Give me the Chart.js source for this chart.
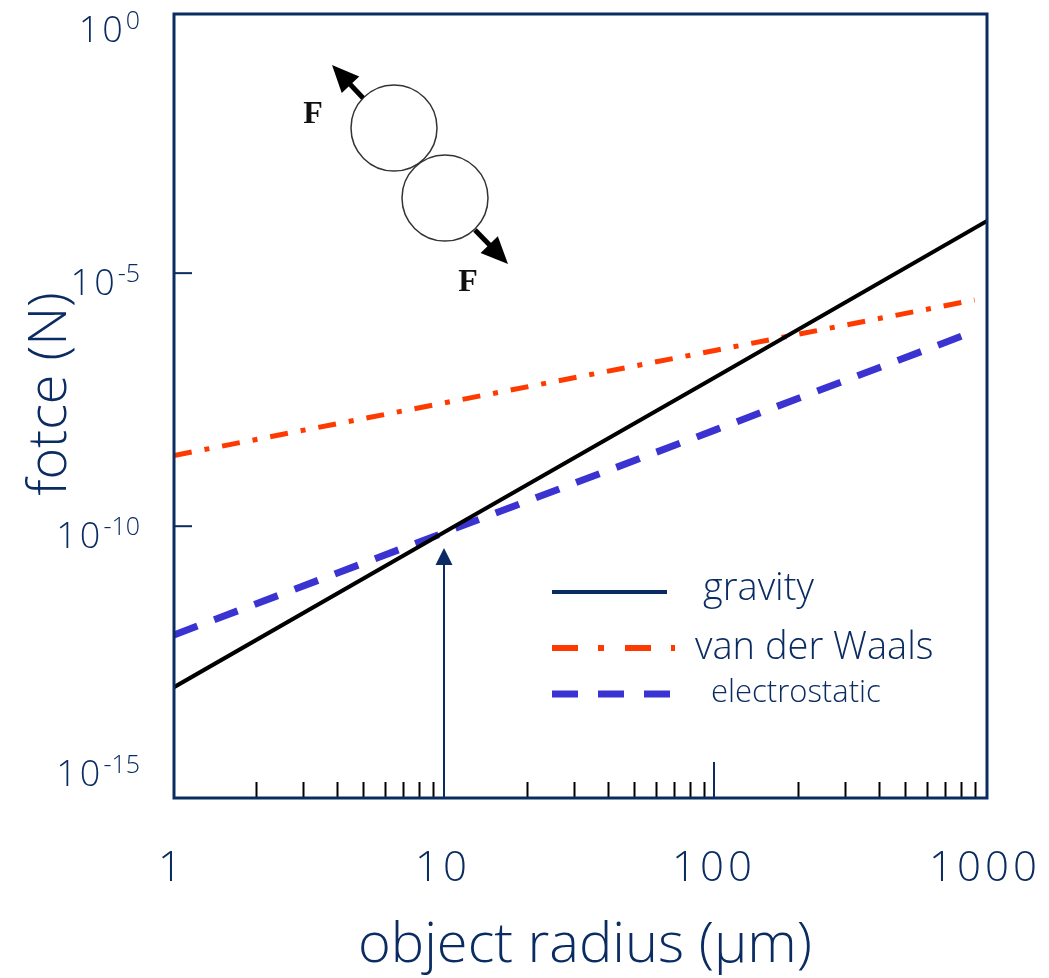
<!DOCTYPE html>
<html>
<head>
<meta charset="utf-8">
<script src="https://cdn.jsdelivr.net/npm/chart.js@4/dist/chart.umd.min.js"></script>
<style>
  body { margin: 0; background: #fff; }
  canvas { display: block; }
</style>
</head>
<body>
<canvas id="forcePlot" width="1049" height="978"></canvas>
<script>
// values (log-log straight lines)
const radius = [1, 10, 100, 1000];
const radiusEnd = [1, 10, 100, 900];
const gravity = [6.6e-14, 7.8e-11, 9.0e-8, 1.07e-4];
const vanDerWaals = [2.5e-9, 2.75e-8, 3.0e-7, 2.95e-6];
const electrostatic = [7.1e-13, 7.6e-11, 8.1e-9, 7.1e-7];

const xTickLabels = ['1', '10', '100', '1000'];
const xTickValues = [1, 10, 100, 1000];
const yTickExps = ['0', '-5', '-10', '-15'];
const yTickValues = [1, 1e-5, 1e-10, 1e-15];
const yTickMarks = [1e-5, 1e-10];
const arrowTip = { x: 10, y: 3.7e-11 };

const NAVY = '#0b2c62';
const RED = '#ff3a00';
const BLUE = '#3a33d2';
const FONT = '"Open Sans", "Noto Sans", sans-serif';

function pts(xs, ys) {
    return xs.map((x, i) => ({ x: x, y: ys[i] }));
}

// everything around the plot: frame, ticks, labels, legend, inset sketch
const decorPlugin = {
    id: 'decorPlugin',
    afterDraw: (chart) => {
        const { ctx, chartArea: { top, bottom, left, right } } = chart;
        const xs = chart.scales.x;
        const ys = chart.scales.y;
        ctx.save();

        // minor ticks on x (2..9 in each decade)
        ctx.strokeStyle = '#000';
        ctx.lineWidth = 2;
        for (let d = 1; d < 1000; d *= 10) {
            for (let k = 2; k <= 9; k++) {
                const px = Math.round(xs.getPixelForValue(k * d)) + 0.5;
                ctx.beginPath();
                ctx.moveTo(px, bottom);
                ctx.lineTo(px, bottom - 16);
                ctx.stroke();
            }
        }

        // navy tick at 100
        ctx.strokeStyle = NAVY;
        ctx.lineWidth = 2;
        const p100 = xs.getPixelForValue(100) - 2;
        ctx.beginPath();
        ctx.moveTo(p100, bottom);
        ctx.lineTo(p100, bottom - 36);
        ctx.stroke();

        // y ticks (inward)
        yTickMarks.forEach(v => {
            const py = ys.getPixelForValue(v);
            ctx.beginPath();
            ctx.moveTo(left, py);
            ctx.lineTo(left + 18, py);
            ctx.stroke();
        });

        // arrow at r = 10
        const ax = xs.getPixelForValue(arrowTip.x) - 1;
        const ay = ys.getPixelForValue(arrowTip.y);
        ctx.lineWidth = 2;
        ctx.beginPath();
        ctx.moveTo(ax, bottom);
        ctx.lineTo(ax, ay + 16);
        ctx.stroke();
        ctx.fillStyle = NAVY;
        ctx.beginPath();
        ctx.moveTo(ax, ay);
        ctx.lineTo(ax - 8.5, ay + 17);
        ctx.lineTo(ax + 8.5, ay + 17);
        ctx.closePath();
        ctx.fill();

        // frame
        ctx.lineWidth = 3;
        ctx.strokeStyle = NAVY;
        ctx.strokeRect(left, top, right - left, bottom - top);

        // x tick labels
        ctx.fillStyle = NAVY;
        ctx.font = '300 42px ' + FONT;
        ctx.letterSpacing = '4px';
        ctx.textAlign = 'center';
        ctx.textBaseline = 'alphabetic';
        xTickValues.forEach((v, i) => {
            ctx.fillText(xTickLabels[i], xs.getPixelForValue(v) - 2, 881);
        });
        ctx.letterSpacing = '0px';

        // y tick labels 10^n
        ctx.textAlign = 'left';
        yTickValues.forEach((v, i) => {
            const py = ys.getPixelForValue(v);
            const base = Math.min(py + 22, bottom - 12);
            ctx.font = '300 25px ' + FONT;
            const ew = ctx.measureText(yTickExps[i]).width;
            ctx.font = '300 36px ' + FONT;
            ctx.letterSpacing = '3px';
            const bw = ctx.measureText('10').width;
            const rx = 140;
            ctx.fillText('10', rx - ew - bw, base);
            ctx.letterSpacing = '0px';
            ctx.font = '300 25px ' + FONT;
            ctx.fillText(yTickExps[i], rx - ew, base - 13);
        });

        // axis titles
        ctx.font = '300 56px ' + FONT;
        ctx.textAlign = 'center';
        ctx.fillText('object radius (\u03bcm)', 585, 962);
        ctx.save();
        ctx.translate(66, 394);
        ctx.rotate(-Math.PI / 2);
        ctx.font = '300 54px ' + FONT;
        ctx.fillText('fotce (N)', 0, 0);
        ctx.restore();

        // legend
        ctx.lineCap = 'butt';
        ctx.strokeStyle = NAVY;
        ctx.lineWidth = 4;
        ctx.beginPath();
        ctx.moveTo(552, 592);
        ctx.lineTo(667, 592);
        ctx.stroke();

        ctx.strokeStyle = RED;
        ctx.lineWidth = 6;
        ctx.setLineDash([26, 20, 6, 21, 26, 20, 4, 100]);
        ctx.beginPath();
        ctx.moveTo(552, 648);
        ctx.lineTo(676, 648);
        ctx.stroke();

        ctx.strokeStyle = BLUE;
        ctx.lineWidth = 7;
        ctx.setLineDash([26, 20]);
        ctx.beginPath();
        ctx.moveTo(552, 694);
        ctx.lineTo(670, 694);
        ctx.stroke();
        ctx.setLineDash([]);

        ctx.fillStyle = NAVY;
        ctx.textAlign = 'left';
        ctx.font = '300 38px ' + FONT;
        ctx.fillText('gravity', 703, 600);
        ctx.fillText('van der Waals', 695, 659);
        ctx.font = '300 31px ' + FONT;
        ctx.fillText('electrostatic', 711, 702);

        // inset sketch: two touching spheres pulled apart
        ctx.strokeStyle = '#333';
        ctx.lineWidth = 1.5;
        ctx.beginPath();
        ctx.arc(394, 128, 43, 0, Math.PI * 2);
        ctx.stroke();
        ctx.beginPath();
        ctx.arc(445, 198, 43, 0, Math.PI * 2);
        ctx.stroke();

        function forceArrow(x1, y1, x2, y2) {
            const ang = Math.atan2(y2 - y1, x2 - x1);
            const c = Math.cos(ang), s = Math.sin(ang);
            ctx.strokeStyle = '#000';
            ctx.fillStyle = '#000';
            ctx.lineWidth = 5;
            ctx.beginPath();
            ctx.moveTo(x1, y1);
            ctx.lineTo(x2 - 18 * c, y2 - 18 * s);
            ctx.stroke();
            ctx.beginPath();
            ctx.moveTo(x2, y2);
            ctx.lineTo(x2 - 27 * c + 12 * s, y2 - 27 * s - 12 * c);
            ctx.lineTo(x2 - 27 * c - 12 * s, y2 - 27 * s + 12 * c);
            ctx.closePath();
            ctx.fill();
        }
        forceArrow(363, 98, 332, 65);
        forceArrow(475, 230, 508, 264);

        ctx.fillStyle = '#111';
        ctx.font = 'bold 32px "Liberation Serif", serif';
        ctx.textAlign = 'center';
        ctx.fillText('F', 313, 123);
        ctx.fillText('F', 468, 291);

        ctx.restore();
    }
};

const chart = new Chart(document.getElementById('forcePlot').getContext('2d'), {
    type: 'line',
    data: {
        datasets: [{
            label: 'gravity',
            data: pts(radius, gravity),
            borderColor: '#000',
            borderWidth: 4,
            pointRadius: 0
        }, {
            label: 'van der Waals',
            data: pts(radiusEnd, vanDerWaals),
            borderColor: RED,
            borderWidth: 5,
            borderDash: [18, 13, 5, 13],
            pointRadius: 0
        }, {
            label: 'electrostatic',
            data: pts(radiusEnd, electrostatic),
            borderColor: BLUE,
            borderWidth: 7,
            borderDash: [25, 18],
            pointRadius: 0
        }]
    },
    options: {
        responsive: false,
        animation: false,
        layout: {
            padding: { left: 174, top: 14, right: 62, bottom: 180 }
        },
        plugins: {
            legend: { display: false },
            tooltip: { enabled: false }
        },
        scales: {
            x: {
                type: 'logarithmic',
                min: 1,
                max: 1000,
                display: false
            },
            y: {
                type: 'logarithmic',
                min: Math.pow(10, -15.37),
                max: Math.pow(10, 0.12),
                display: false
            }
        }
    },
    plugins: [decorPlugin]
});
</script>
</body>
</html>
